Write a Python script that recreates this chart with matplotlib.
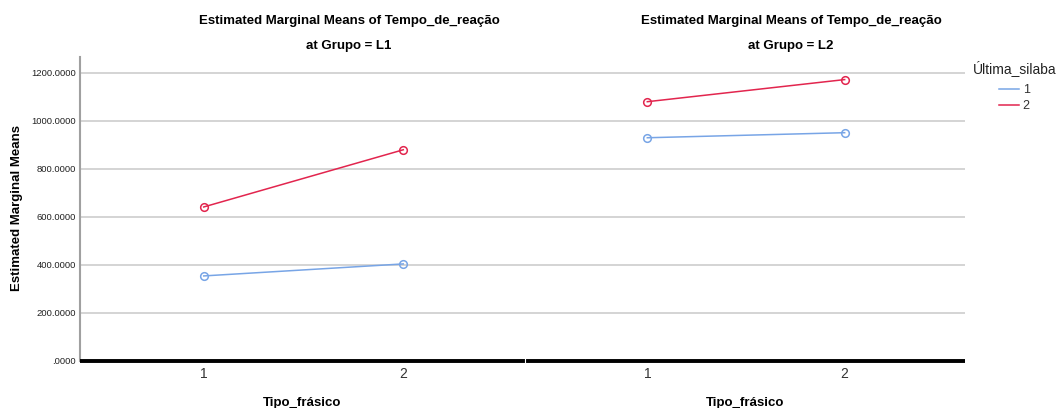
import matplotlib
matplotlib.use("Agg")
import matplotlib.pyplot as plt
from matplotlib.lines import Line2D

plt.rcParams['font.family'] = ['Liberation Sans', 'DejaVu Sans']

tipo = [1, 2]
groups = ["L1", "L2"]
silaba_labels = ["1", "2"]
# values per group, per Última_silaba level
l1_s1 = [354, 404]
l1_s2 = [641, 879]
l2_s1 = [929, 950]
l2_s2 = [1079, 1171]
series = {"L1": [l1_s1, l1_s2], "L2": [l2_s1, l2_s2]}
yticks = [0, 200, 400, 600, 800, 1000, 1200]
ytick_labels = [".0000", "200.0000", "400.0000", "600.0000", "800.0000", "1000.0000", "1200.0000"]
colors = ["#78a5e6", "#e2254e"]

W, H = 1060, 408
fig = plt.figure(figsize=(W / 100, H / 100), dpi=100)
fig.patch.set_facecolor("white")

bottom = (H - 361) / H
height = (361 - 57) / H
axes_boxes = [(80 / W, bottom, 445 / W, height), (525 / W, bottom, 440 / W, height)]
title_x = [349, 791]

for i, g in enumerate(groups):
    ax = fig.add_axes(axes_boxes[i])
    ax.set_xlim(0.38, 2.61)
    ax.set_ylim(0, 1265)
    for y in yticks[1:]:
        ax.axhline(y, color="#c9c9c9", lw=1.1, zorder=1)
    for j, vals in enumerate(series[g]):
        ax.plot(tipo, vals, color=colors[j], lw=1.1, marker="o", ms=5.5,
                mfc="none", mec=colors[j], mew=1.1, zorder=3)
    for s in ["top", "right"]:
        ax.spines[s].set_visible(False)
    ax.spines["bottom"].set_color("black")
    ax.spines["bottom"].set_linewidth(2.8)
    ax.spines["bottom"].set_capstyle("butt")
    ax.spines["bottom"].set_zorder(4)
    if i == 0:
        ax.spines["left"].set_color("#a0a0a0")
        ax.spines["left"].set_linewidth(1.5)
        ax.set_yticks(yticks)
        ax.set_yticklabels(ytick_labels, fontsize=6.8, color="#222222")
        ax.tick_params(axis="y", length=0, pad=3)
    else:
        ax.spines["left"].set_visible(False)
        ax.set_yticks([])
    ax.set_xticks(tipo)
    ax.set_xticklabels(["1", "2"], fontsize=10, color="#333333")
    ax.tick_params(axis="x", length=0, pad=4)
    ax.set_xlabel("Tipo_frásico", fontsize=9.5, fontweight="bold", labelpad=12)
    ax.set_facecolor("none")
    cx = title_x[i] / W
    fig.text(cx, 1 - 21 / H, "Estimated Marginal Means of Tempo_de_reação",
             ha="center", va="center", fontsize=9.5, fontweight="bold")
    fig.text(cx, 1 - 46 / H, f"at Grupo = {g}",
             ha="center", va="center", fontsize=9.5, fontweight="bold")

fig.text(17 / W, 1 - 208 / H, "Estimated Marginal Means", rotation=90,
         ha="center", va="center", fontsize=9.5, fontweight="bold")

# small white gap in the bottom line between panels
fig.add_artist(Line2D([525 / W, 525 / W], [bottom - 2 / H, bottom + 2 / H],
                      color="white", lw=0.8, transform=fig.transFigure, zorder=10))

fig.text(973 / W, 1 - 68 / H, "Última_silaba", ha="left", va="center",
         fontsize=10, color="#222222")
handles = [Line2D([], [], color=c, lw=1.1) for c in colors]
leg = fig.legend(handles, silaba_labels,
                 loc="upper left", bbox_to_anchor=(999 / W, 1 - 84 / H),
                 frameon=False, fontsize=9,
                 handlelength=1.6, handletextpad=0.3, labelspacing=0.35,
                 borderaxespad=0, borderpad=0)
for t in leg.get_texts():
    t.set_color("#333333")

fig.savefig("out.png", dpi=100)
